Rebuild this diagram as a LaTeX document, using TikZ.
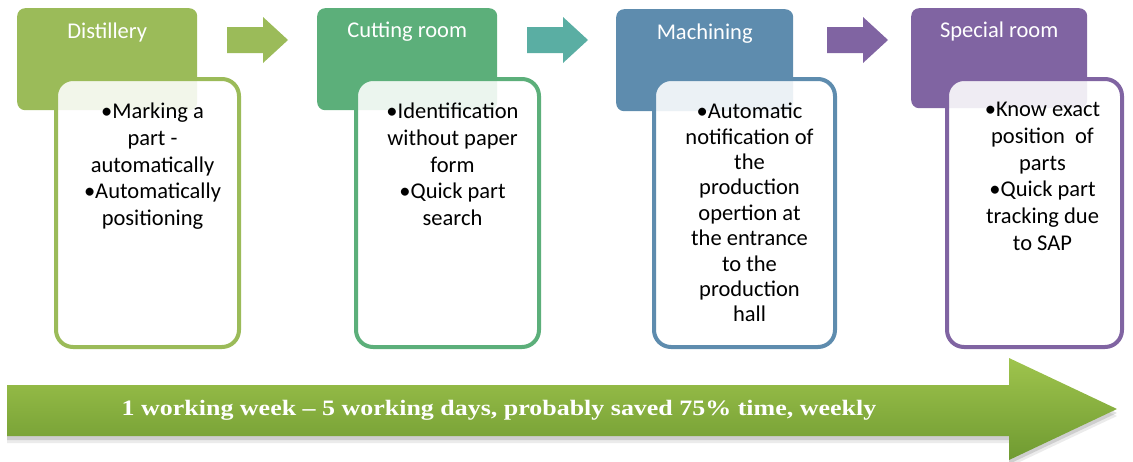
\documentclass[tikz,border=0pt]{standalone}
\usepackage{fontspec}
\setmainfont{Carlito}
\newfontfamily\bannerfont{Liberation Serif}
\usetikzlibrary{positioning}

\definecolor{distgreen}{HTML}{9BBB59}
\definecolor{cutgreen}{HTML}{5CAF7A}
\definecolor{tealarrow}{HTML}{5AAEA3}
\definecolor{machblue}{HTML}{5E8CAE}
\definecolor{specpurple}{HTML}{8064A2}
\definecolor{bandtop}{HTML}{9FC44D}
\definecolor{bandbot}{HTML}{6F9A31}

\begin{document}
\begin{tikzpicture}[x=1pt, y=-1pt,
    roomhead/.style={minimum width=180pt, minimum height=102pt, inner sep=0pt, rounded corners=8pt, anchor=north west},
    roomcard/.style={draw, line width=4pt, fill=white, fill opacity=0.88, draw opacity=1, minimum width=183pt, minimum height=268pt, rounded corners=17pt, anchor=north west},
    roomtitle/.style={text=white, inner sep=0pt, font=\fontsize{22.5}{26}\selectfont},
    roomtext/.style={align=center, inner sep=0pt, anchor=north, font=\fontsize{22.5}{26.7}\selectfont},
    bandtext/.style={text=white, inner sep=0pt, font=\bannerfont\bfseries\fontsize{22}{26}\selectfont}]
    \useasboundingbox (0,0) rectangle (1133,461);

    % Distillery
    \node[roomhead, fill=distgreen] (disthead) at (17,8) {};
    \node[roomtitle] (disttitle) at ([yshift=-24pt]disthead.north) {Distillery};
    \node[roomcard, draw=distgreen] (distcard) at (54,77) {};
    \node[roomtext] (disttext) at ([xshift=5pt,yshift=-26pt]distcard.north) {•Marking a\\part -\\automatically\\•Automatically\\positioning};

    % Cutting room
    \node[roomhead, fill=cutgreen] (cuthead) at (317,8) {};
    \node[roomtitle] (cuttitle) at ([yshift=-24pt]cuthead.north) {Cutting room};
    \node[roomcard, draw=cutgreen] (cutcard) at (354,77) {};
    \node[roomtext] (cuttext) at ([xshift=5pt,yshift=-26pt]cutcard.north) {•Identification\\without paper\\form\\•Quick part\\search};

    % Machining
    \node[roomhead, fill=machblue, minimum width=177pt] (machhead) at (616,9) {};
    \node[roomtitle] (machtitle) at ([yshift=-25pt]machhead.north) {Machining};
    \node[roomcard, draw=machblue, minimum width=181pt] (machcard) at (652,77) {};
    \node[roomtext, font=\fontsize{22.5}{25.4}\selectfont] (machtext) at ([xshift=5pt,yshift=-26pt]machcard.north) {•Automatic\\notification of\\the\\production\\opertion at\\the entrance\\to the\\production\\hall};

    % Special room
    \node[roomhead, fill=specpurple, minimum width=176pt, minimum height=100pt] (spechead) at (911,8) {};
    \node[roomtitle] (spectitle) at ([yshift=-23pt]spechead.north) {Special room};
    \node[roomcard, draw=specpurple, minimum width=175pt] (speccard) at (945,77) {};
    \node[roomtext] (spectext) at ([xshift=8pt,yshift=-25pt]speccard.north) {•Know exact\\position~ of\\parts\\•Quick part\\tracking due\\to SAP};

    % Arrows between the rooms
    \fill[distgreen] (227,27) -- ++(36,0) -- ++(0,-10) -- ++(25,23) -- ++(-25,23) -- ++(0,-10) -- ++(-36,0) -- cycle;
    \fill[tealarrow] (527,27) -- ++(36,0) -- ++(0,-10) -- ++(25,23) -- ++(-25,23) -- ++(0,-10) -- ++(-36,0) -- cycle;
    \fill[specpurple] (827,27) -- ++(36,0) -- ++(0,-10) -- ++(25,23) -- ++(-25,23) -- ++(0,-10) -- ++(-36,0) -- cycle;

    % Time band along the bottom
    \shade[top color=bandtop, bottom color=bandbot,
        preaction={fill=black, opacity=0.08, transform canvas={yshift=-7pt}},
        preaction={fill=black, opacity=0.12, transform canvas={yshift=-4pt}}]
        (7,385) -- (1009,385) -- (1009,358) -- (1117,409) -- (1009,460) -- (1009,436) -- (7,436) -- cycle;
    \node[bandtext] (weektext) at (499,410) {\scalebox{1.18}[1]{1 working week – 5 working days, probably saved 75\% time, weekly}};
\end{tikzpicture}
\end{document}
